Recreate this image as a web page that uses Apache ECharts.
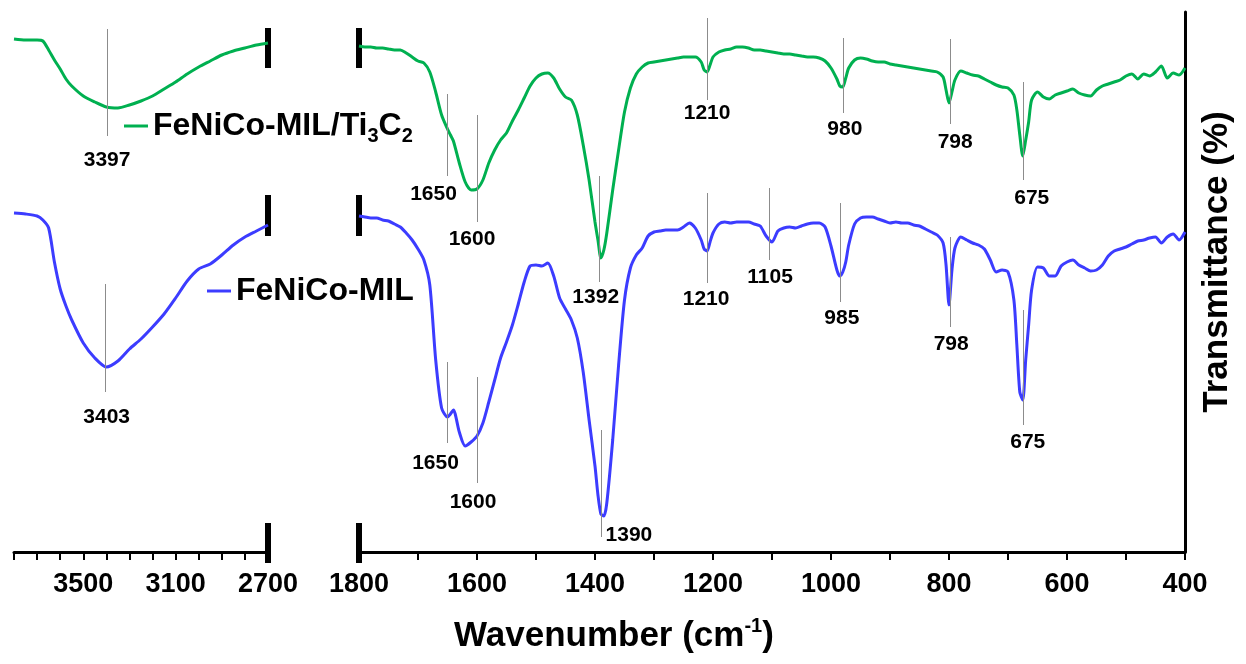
<!DOCTYPE html>
<html>
<head>
<meta charset="utf-8">
<title>FTIR spectra</title>
<script src="https://cdn.jsdelivr.net/npm/echarts@6/dist/echarts.min.js"></script>
<style>
  html, body { margin: 0; padding: 0; background: #fff; }
  #chart { width: 1246px; height: 664px; }
</style>
</head>
<body>
<div id="chart"></div>
<script>
// FTIR spectra, broken wavenumber axis (3800-2700 | 1800-400)
const FONT = '"Liberation Sans", Arial, sans-serif';
const GREEN = '#00b050';
const BLUE = '#3c3cff';
const GREEN_NAME = 'FeNiCo-MIL/Ti3C2';
const BLUE_NAME = 'FeNiCo-MIL';

// O-H region (cm-1) and transmittance (a.u., offset traces)
const leftWn = [3800, 3750, 3700, 3675, 3650, 3625, 3600, 3575, 3550,
  3500, 3450, 3400, 3350, 3300, 3250, 3200, 3150, 3100, 3050,
  3000, 2950, 2900, 2850, 2800, 2750, 2700];
const greenLeft = [513, 512, 512, 511, 502, 492, 483, 473, 466,
  456, 450, 445, 444, 447, 451, 456, 463, 470, 478,
  485, 491, 497, 501, 504, 507, 509];
const blueLeft = [339, 338, 336, 332, 324, 290, 263, 246, 232,
  209, 194, 185, 191, 203, 213, 225, 238, 254, 271,
  283, 288, 297, 307, 315, 321, 327];

// fingerprint region (cm-1)
const rightWn = [
  1800, 1790, 1780, 1770, 1760, 1750, 1740, 1730, 1720, 1710,
  1700, 1690, 1680, 1670, 1660, 1650, 1645, 1640, 1630, 1620,
  1610, 1600, 1590, 1580, 1570, 1560, 1550, 1540, 1530, 1520,
  1510, 1500, 1490, 1480, 1470, 1460, 1450, 1440, 1430, 1420,
  1410, 1400, 1395, 1390, 1385, 1380, 1370, 1360, 1350, 1340,
  1330, 1320, 1310, 1300, 1290, 1280, 1270, 1260, 1250, 1240,
  1230, 1220, 1215, 1210, 1205, 1200, 1190, 1180, 1170, 1160,
  1150, 1140, 1130, 1120, 1110, 1100, 1090, 1080, 1070, 1060,
  1050, 1040, 1030, 1020, 1010, 1000, 990, 985, 980, 975,
  970, 960, 950, 940, 930, 920, 910, 900, 890, 880,
  870, 860, 850, 840, 830, 820, 810, 805, 800, 795,
  790, 780, 770, 760, 750, 740, 730, 720, 710, 700,
  690, 685, 680, 675, 670, 665, 660, 650, 640, 630,
  620, 610, 600, 590, 580, 570, 560, 550, 540, 530,
  520, 510, 500, 490, 480, 470, 460, 450, 440, 430,
  420, 410, 400];
const greenRight = [
  506, 505, 505, 504, 504, 503, 502, 502, 499, 495,
  491, 489, 480, 460, 437, 423, 417, 411, 389, 370,
  362, 363, 372, 389, 402, 412, 419, 431, 442, 454,
  466, 474, 478, 479, 474, 463, 455, 452, 437, 407,
  372, 330, 312, 294, 302, 319, 362, 402, 440, 464,
  478, 485, 489, 490, 491, 492, 493, 494, 495, 495,
  495, 490, 482, 480, 487, 495, 500, 502, 503, 505,
  505, 504, 502, 502, 501, 500, 499, 498, 498, 497,
  496, 495, 495, 494, 491, 484, 473, 466, 465, 474,
  484, 492, 494, 493, 491, 490, 490, 488, 487, 486,
  485, 484, 483, 482, 481, 480, 475, 462, 449, 460,
  472, 481, 479, 477, 476, 473, 470, 467, 465, 464,
  457, 442, 417, 396, 412, 430, 452, 460, 455, 453,
  457, 459, 461, 463, 459, 457, 456, 462, 466, 468,
  470, 472, 476, 478, 473, 478, 476, 480, 486, 474,
  479, 477, 484];
const blueRight = [
  336, 335, 334, 334, 332, 331, 328, 325, 319, 312,
  303, 292, 267, 192, 144, 135, 138, 142, 120, 106,
  110, 116, 129, 150, 172, 194, 210, 227, 248, 270,
  286, 287, 286, 289, 276, 254, 243, 232, 214, 180,
  132, 86, 57, 38, 36, 49, 112, 187, 252, 284,
  297, 304, 316, 320, 321, 322, 322, 322, 325, 329,
  324, 312, 303, 301, 310, 319, 328, 330, 329, 330,
  330, 330, 328, 326, 316, 310, 321, 324, 325, 324,
  326, 328, 329, 329, 325, 306, 282, 276, 280, 290,
  307, 328, 334, 335, 335, 333, 331, 329, 330, 329,
  329, 327, 326, 323, 320, 317, 309, 287, 247, 282,
  304, 315, 312, 309, 307, 303, 292, 280, 282, 280,
  252, 207, 160, 152, 192, 227, 262, 285, 284, 276,
  276, 286, 290, 292, 287, 284, 281, 282, 287, 296,
  301, 303, 305, 308, 311, 312, 314, 315, 309, 315,
  318, 312, 320];

// tick labels shown on the two x axes
const leftTickLabels = [3500, 3100, 2700];
const rightTickLabels = [1800, 1600, 1400, 1200, 1000, 800, 600, 400];

// marked peaks
const greenLeftPeaks = [3397];
const blueLeftPeaks = [3403];
const greenPeaks = [1650, 1600, 1392, 1210, 980, 798, 675];
const bluePeaks = [1650, 1600, 1390, 1210, 1105, 985, 798, 675];

// layout of the peak markers: [line top, line bottom] in y units, label [dx px, y]
const greenLeftSpan = [[523, 416]];
const greenLeftLabelAt = [[0, 392]];
const blueLeftSpan = [[268, 160]];
const blueLeftLabelAt = [[1, 135]];
const greenSpan = [[458, 376], [437, 330], [376, 270], [534, 452], [514, 439], [513, 428], [470, 372]];
const greenLabelAt = [[-14, 358], [-5, 313], [-4, 255], [0, 439], [2, 423], [5, 410], [9, 354]];
const blueSpan = [[190, 109], [175, 69], [122, 15], [359, 269], [364, 292], [349, 250], [315, 225], [242, 127]];
const blueLabelAt = [[-12, 89], [-4, 50], [28, 17], [-1, 253], [1, 275], [2, 234], [1, 208], [5, 110]];
// axis-break bars: [top, bottom] in y units, plus how far the lowest one pokes below the axis
const breakSpans = [[524, 484], [357, 316], [29, 0]];
const breakOvershoot = 11;

function pairs(xs, ys) {
  return xs.map((x, i) => [x, ys[i]]);
}

function peakLines(peaks, spans) {
  return peaks.map((wn, i) => [
    { coord: [wn, spans[i][0]] },
    { coord: [wn, spans[i][1]] }
  ]);
}

function peakLabels(peaks, at) {
  return peaks.map((wn, i) => ({
    name: String(wn),
    value: [wn, at[i][1]],
    label: { offset: [at[i][0], 0] }
  }));
}

function traceSeries(name, color, axis, data) {
  return {
    name, type: 'line', xAxisIndex: axis, yAxisIndex: axis, data,
    symbol: 'none', smooth: 0.25, silent: true,
    itemStyle: { color },
    lineStyle: { color, width: 3 }
  };
}

function markerSeries(axis, labels, lines) {
  return {
    type: 'scatter', xAxisIndex: axis, yAxisIndex: axis, silent: true,
    symbolSize: 1, itemStyle: { color: 'rgba(0,0,0,0)' },
    label: {
      show: true, position: 'inside', formatter: '{b}', opacity: 1,
      color: '#000', textBorderWidth: 0,
      fontFamily: FONT, fontWeight: 'bold', fontSize: 21
    },
    data: labels,
    markLine: {
      silent: true, symbol: ['none', 'none'], animation: false,
      label: { show: false },
      lineStyle: { color: '#8c8c8c', width: 1, type: 'solid' },
      data: lines
    }
  };
}

function xAxisCfg(grid, min, max, shown) {
  return {
    type: 'value', gridIndex: grid, min, max, interval: 100, inverse: true,
    axisLine: { onZero: false, lineStyle: { color: '#000', width: 3 } },
    axisTick: { length: 8, lineStyle: { color: '#000', width: 2 } },
    axisLabel: {
      margin: 19, color: '#000', fontFamily: FONT, fontWeight: 'bold', fontSize: 27,
      showMinLabel: true, showMaxLabel: true, hideOverlap: false,
      formatter: v => (shown.includes(v) ? String(v) : '')
    },
    splitLine: { show: false }
  };
}

const legendRich = {
  b: { fontFamily: FONT, fontWeight: 'bold', fontSize: 32, lineHeight: 40, color: '#000' },
  s: { fontFamily: FONT, fontWeight: 'bold', fontSize: 20, lineHeight: 20, verticalAlign: 'bottom', color: '#000' }
};

const chart = echarts.init(document.getElementById('chart'));
chart.setOption({
  animation: false,
  backgroundColor: '#fff',
  title: {
    text: '{n|Wavenumber (cm}{sup|-1}{n|)}',
    left: 454, top: 616, padding: 0,
    textStyle: {
      rich: {
        n: { fontFamily: FONT, fontWeight: 'bold', fontSize: 35, lineHeight: 40, color: '#000' },
        sup: { fontFamily: FONT, fontWeight: 'bold', fontSize: 20, lineHeight: 20, verticalAlign: 'top', color: '#000' }
      }
    }
  },
  legend: [
    {
      data: [GREEN_NAME], left: 124, top: 110, padding: 0,
      icon: 'rect', itemWidth: 24, itemHeight: 3, selectedMode: false,
      formatter: () => '{b|FeNiCo-MIL/Ti}{s|3}{b|C}{s|2}',
      textStyle: { rich: legendRich }
    },
    {
      data: [BLUE_NAME], left: 207, top: 275, padding: 0,
      icon: 'rect', itemWidth: 24, itemHeight: 3, selectedMode: false,
      formatter: () => '{b|FeNiCo-MIL}',
      textStyle: { rich: legendRich }
    }
  ],
  grid: [
    { left: 14, top: 12, width: 254, height: 540, outerBoundsMode: 'none' },
    { left: 359, top: 12, width: 826, height: 540, outerBoundsMode: 'none' }
  ],
  xAxis: [
    xAxisCfg(0, 2700, 3800, leftTickLabels),
    xAxisCfg(1, 400, 1800, rightTickLabels)
  ],
  yAxis: [
    { type: 'value', gridIndex: 0, min: 0, max: 540, show: false },
    {
      type: 'value', gridIndex: 1, min: 0, max: 540, position: 'right',
      axisLine: { show: true, lineStyle: { color: '#000', width: 3 } },
      axisTick: { show: false }, axisLabel: { show: false }, splitLine: { show: false }
    }
  ],
  series: [
    traceSeries(GREEN_NAME, GREEN, 0, pairs(leftWn, greenLeft)),
    traceSeries(BLUE_NAME, BLUE, 0, pairs(leftWn, blueLeft)),
    traceSeries(GREEN_NAME, GREEN, 1, pairs(rightWn, greenRight)),
    traceSeries(BLUE_NAME, BLUE, 1, pairs(rightWn, blueRight)),
    markerSeries(0,
      peakLabels(greenLeftPeaks, greenLeftLabelAt).concat(peakLabels(blueLeftPeaks, blueLeftLabelAt)),
      peakLines(greenLeftPeaks, greenLeftSpan).concat(peakLines(blueLeftPeaks, blueLeftSpan))),
    markerSeries(1,
      peakLabels(greenPeaks, greenLabelAt).concat(peakLabels(bluePeaks, blueLabelAt)),
      peakLines(greenPeaks, greenSpan).concat(peakLines(bluePeaks, blueSpan)))
  ]
});

// break bars and the y-axis title, placed through the axes' own scales
const breakAt = [{ grid: 0, wn: 2700 }, { grid: 1, wn: 1800 }];
const bars = [];
breakAt.forEach(b => {
  breakSpans.forEach((s, i) => {
    const top = chart.convertToPixel({ gridIndex: b.grid }, [b.wn, s[0]]);
    const bot = chart.convertToPixel({ gridIndex: b.grid }, [b.wn, s[1]]);
    const extra = i === breakSpans.length - 1 ? breakOvershoot : 0;
    bars.push({
      type: 'rect', silent: true,
      shape: { x: top[0] - 3, y: top[1], width: 6, height: bot[1] - top[1] + extra },
      style: { fill: '#000' }
    });
  });
});
chart.setOption({
  graphic: bars.concat([{
    type: 'text', x: 1217, y: 262, rotation: Math.PI / 2, silent: true,
    style: {
      text: 'Transmittance (%)', fill: '#000',
      font: 'bold 35px "Liberation Sans", Arial, sans-serif',
      align: 'center', verticalAlign: 'middle'
    }
  }])
});
</script>
</body>
</html>
